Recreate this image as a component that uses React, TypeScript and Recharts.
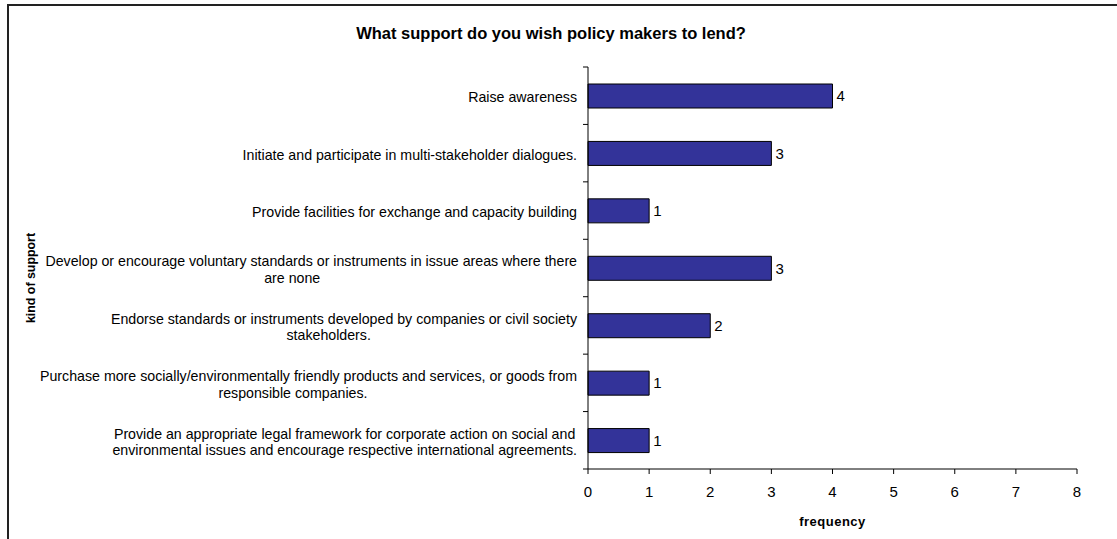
import React from "react";
import { BarChart, Bar, XAxis, YAxis, LabelList, Label } from "recharts";

const categories: string[] = [
  "Raise awareness",
  "Initiate and participate in multi-stakeholder dialogues.",
  "Provide facilities for exchange and capacity building",
  "Develop or encourage voluntary standards or instruments in issue areas where there\nare none",
  "Endorse standards or instruments developed by companies or civil society\nstakeholders.",
  "Purchase more socially/environmentally friendly products and services, or goods from\nresponsible companies.",
  "Provide an appropriate legal framework for corporate action on social and\nenvironmental issues and encourage respective international agreements.",
];
const frequency: number[] = [4, 3, 1, 3, 2, 1, 1];
const xTicks: number[] = [0, 1, 2, 3, 4, 5, 6, 7, 8];
const title = "What support do you wish policy makers to lend?";
const xTitle = "frequency";
const yTitle = "kind of support";

const data = categories.map((c, i) => ({ category: c, frequency: frequency[i] }));

const W = 1117;
const H = 539;
const M = { top: 67, right: 40, bottom: 0, left: 8 };
const Y_W = 580;
const X_H = 70;
const PLOT_H = H - M.top - M.bottom - X_H;
const AXIS_X = M.left + Y_W;
const FONT = "'Liberation Sans', Arial, sans-serif";
const CAT_SIZE = 14.2;
const SHIFT_K = 0.04;

let ctx: CanvasRenderingContext2D | null = null;
function measure(s: string): number {
  if (!ctx) {
    const c = document.createElement("canvas");
    ctx = c.getContext("2d");
  }
  if (!ctx) return s.length * 7;
  ctx.font = `${CAT_SIZE}px ${FONT}`;
  return ctx.measureText(s).width;
}

const CatTick = (props: any) => {
  const { payload, index } = props;
  const y = payload.coordinate;
  const lines = String(payload.value).split("\n");
  const band = PLOT_H / categories.length;
  const widths = lines.map(measure);
  const maxW = Math.max(...widths);
  const rightEdge = AXIS_X - 11;
  const c = rightEdge - maxW * (0.5 + SHIFT_K);
  const lh = 16.5;
  const startY = y + 1.5 - ((lines.length - 1) * lh) / 2;
  return (
    <g>
      <line x1={AXIS_X - 5} x2={AXIS_X} y1={y - band / 2} y2={y - band / 2} stroke="#000" />
      {index === categories.length - 1 && (
        <line x1={AXIS_X - 5} x2={AXIS_X} y1={y + band / 2} y2={y + band / 2} stroke="#000" />
      )}
      <text fontSize={CAT_SIZE} fontFamily={FONT} fill="#000" textAnchor="middle">
        {lines.map((l, i) => (
          <tspan key={i} x={c + SHIFT_K * widths[i]} y={startY + i * lh} dy="0.35em">
            {l}
          </tspan>
        ))}
      </text>
    </g>
  );
};

export default function App() {
  return (
    <div
      style={{
        position: "absolute",
        left: 0,
        top: 0,
        width: W,
        height: H,
        overflow: "hidden",
        background: "#fff",
        fontFamily: FONT,
      }}
    >
      <div
        style={{
          position: "absolute",
          left: 7,
          top: 4,
          width: 1300,
          height: 800,
          border: "2px solid #222",
          boxSizing: "border-box",
        }}
      />
      <div
        style={{
          position: "absolute",
          left: 551 - 300,
          width: 600,
          top: 23,
          textAlign: "center",
          fontSize: 16.5,
          fontWeight: "bold",
          color: "#000",
          lineHeight: "20px",
        }}
      >
        {title}
      </div>
      <div
        style={{
          position: "absolute",
          left: 31 - 60,
          top: 278 - 8,
          width: 120,
          height: 16,
          lineHeight: "16px",
          textAlign: "center",
          fontSize: 12.4,
          fontWeight: "bold",
          transform: "rotate(-90deg)",
          color: "#000",
        }}
      >
        {yTitle}
      </div>
      <div style={{ position: "absolute", left: 0, top: 0 }}>
        <BarChart width={W} height={H} data={data} layout="vertical" margin={M}>
          <XAxis
            type="number"
            domain={[0, 8]}
            ticks={xTicks}
            interval={0}
            height={X_H}
            tickSize={5}
            tickMargin={12}
            stroke="#000"
            tick={{ fontSize: 15, fill: "#000", fontFamily: FONT }}
          >
            <Label
              value={xTitle}
              position="insideBottom"
              offset={13}
              style={{ fontSize: 13, fontWeight: "bold", fill: "#000", fontFamily: FONT, letterSpacing: 0.5 }}
            />
          </XAxis>
          <YAxis
            type="category"
            dataKey="category"
            width={Y_W}
            interval={0}
            tickLine={false}
            axisLine={{ stroke: "#000" }}
            tick={<CatTick />}
          />
          <Bar
            dataKey="frequency"
            fill="#333399"
            stroke="#000"
            strokeWidth={1}
            barSize={24}
            isAnimationActive={false}
          >
            <LabelList
              dataKey="frequency"
              position="right"
              offset={4}
              fill="#000"
              fontSize={15}
              fontFamily={FONT}
            />
          </Bar>
        </BarChart>
      </div>
    </div>
  );
}
